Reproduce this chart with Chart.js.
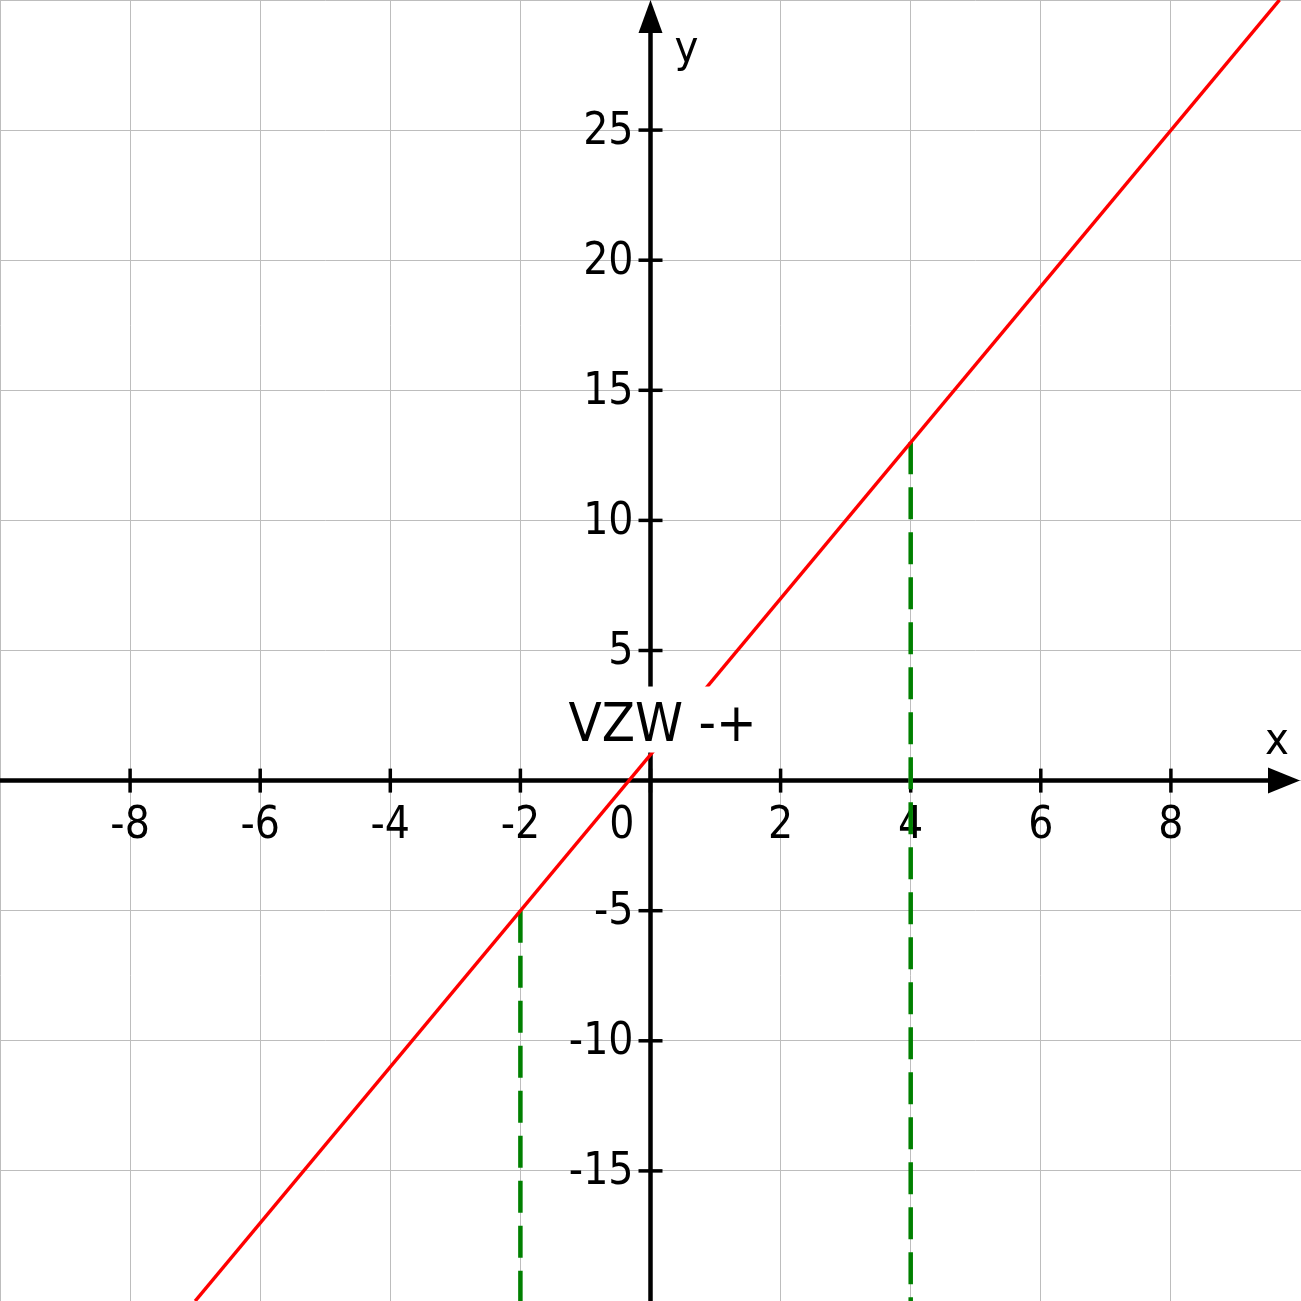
<!DOCTYPE html>
<html>
<head>
<meta charset="utf-8">
<script src="https://cdn.jsdelivr.net/npm/chart.js@4.4.1/dist/chart.umd.min.js"></script>
<style>
  html, body { margin: 0; padding: 0; background: #fff; }
  #wrap { width: 1301px; height: 1301px; }
</style>
</head>
<body>
<div id="wrap"><canvas id="chart"></canvas></div>
<script>
// --- dados ---
const xTicks = [-8, -6, -4, -2, 0, 2, 4, 6, 8];
const yTicks = [-15, -10, -5, 5, 10, 15, 20, 25];

const retaX = [-7, 9.67];
const retaY = [-20, 30];

// linhas verticais tracejadas verdes: x, topo (na reta), base
const marcaX = [-2, 4];
const marcaTopo = [-5, 13];
const marcaBase = [-20, -20];

const rotulo = "VZW -+";
const rotuloPos = { x: -1.26, y: 1.54 }; // canto esquerdo / linha de base

const FONTE = "'DejaVu Sans Condensed', 'DejaVu Sans', sans-serif";

// Plugin: eixos com setas, marcas e rótulos (desenhado antes das linhas)
const eixosPlugin = {
  id: "eixos",
  beforeDatasetsDraw(chart) {
    const ctx = chart.ctx;
    const sx = chart.scales.x, sy = chart.scales.y;
    const ca = chart.chartArea;
    const x0 = sx.getPixelForValue(0);
    const y0 = sy.getPixelForValue(0);

    ctx.save();
    ctx.strokeStyle = "#000";
    ctx.fillStyle = "#000";

    // eixo x
    ctx.lineWidth = 4.5;
    ctx.beginPath();
    ctx.moveTo(ca.left, y0);
    ctx.lineTo(ca.right - 20, y0);
    ctx.stroke();
    ctx.beginPath();
    ctx.moveTo(ca.right - 1, y0);
    ctx.lineTo(ca.right - 33, y0 - 13);
    ctx.lineTo(ca.right - 33, y0 + 13);
    ctx.closePath();
    ctx.fill();

    // eixo y
    ctx.beginPath();
    ctx.moveTo(x0, ca.bottom);
    ctx.lineTo(x0, ca.top + 20);
    ctx.stroke();
    ctx.beginPath();
    ctx.moveTo(x0, ca.top);
    ctx.lineTo(x0 - 12, ca.top + 33);
    ctx.lineTo(x0 + 12, ca.top + 33);
    ctx.closePath();
    ctx.fill();

    // marcas
    ctx.lineWidth = 3.5;
    xTicks.forEach(v => {
      const px = sx.getPixelForValue(v);
      ctx.beginPath();
      ctx.moveTo(px, y0 - 12);
      ctx.lineTo(px, y0 + 12);
      ctx.stroke();
    });
    yTicks.forEach(v => {
      const py = sy.getPixelForValue(v);
      ctx.beginPath();
      ctx.moveTo(x0 - 12, py);
      ctx.lineTo(x0 + 12, py);
      ctx.stroke();
    });

    // pequena falha branca no eixo x onde passa a linha de x = 4
    const pxGap = sx.getPixelForValue(marcaX[1]);
    ctx.fillStyle = "#fff";
    ctx.fillRect(pxGap - 2, y0 - 4, 4, 8);
    ctx.fillStyle = "#000";

    // rótulos das marcas
    ctx.font = "44px " + FONTE;
    ctx.textBaseline = "alphabetic";
    xTicks.forEach(v => {
      const px = sx.getPixelForValue(v);
      if (v === 0) {
        ctx.textAlign = "right";
        ctx.fillText("0", px - 16, y0 + 57);
      } else {
        ctx.textAlign = "center";
        ctx.fillText(String(v), px, y0 + 57);
      }
    });
    ctx.textAlign = "right";
    ctx.textBaseline = "middle";
    yTicks.forEach(v => {
      const py = sy.getPixelForValue(v);
      ctx.fillText(String(v), x0 - 17, py + 2);
    });

    // nomes dos eixos
    ctx.textAlign = "center";
    ctx.textBaseline = "alphabetic";
    ctx.font = "45px " + FONTE;
    ctx.fillText("x", ca.right - 24, y0 - 27);
    ctx.fillText("y", x0 + 36, ca.top + 62);
    ctx.restore();
  },
  afterDatasetsDraw(chart) {
    // caixa branca com o rótulo por cima de tudo
    const ctx = chart.ctx;
    const sx = chart.scales.x, sy = chart.scales.y;
    const px = sx.getPixelForValue(rotuloPos.x);
    const py = sy.getPixelForValue(rotuloPos.y);
    ctx.save();
    ctx.font = "54px " + FONTE;
    ctx.textAlign = "left";
    ctx.textBaseline = "alphabetic";
    const w = ctx.measureText(rotulo).width;
    ctx.fillStyle = "#fff";
    ctx.fillRect(px - 8, py - 54, w + 16, 66);
    ctx.fillStyle = "#000";
    ctx.fillText(rotulo, px, py);
    ctx.restore();
  }
};

const datasets = [{
  data: retaX.map((x, i) => ({ x: x, y: retaY[i] })),
  borderColor: "#ff0000",
  borderWidth: 3.5,
  pointRadius: 0,
  showLine: true
}];

marcaX.forEach((x, i) => {
  datasets.push({
    data: [{ x: x, y: marcaTopo[i] }, { x: x, y: marcaBase[i] }],
    borderColor: "#008000",
    borderWidth: 4.5,
    borderDash: [32, 13],
    pointRadius: 0,
    showLine: true
  });
});

new Chart(document.getElementById("chart").getContext("2d"), {
  type: "scatter",
  data: { datasets: datasets },
  options: {
    responsive: true,
    maintainAspectRatio: false,
    animation: false,
    devicePixelRatio: 1,
    layout: { padding: 0 },
    plugins: { legend: { display: false }, tooltip: { enabled: false } },
    scales: {
      x: {
        type: "linear", min: -10, max: 10,
        ticks: { display: false, stepSize: 2 },
        grid: { color: "#bdbdbd", lineWidth: 1, drawTicks: false },
        border: { display: false }
      },
      y: {
        type: "linear", min: -20, max: 30,
        ticks: { display: false, stepSize: 5 },
        grid: { color: "#bdbdbd", lineWidth: 1, drawTicks: false },
        border: { display: false }
      }
    }
  },
  plugins: [eixosPlugin]
});
</script>
</body>
</html>
